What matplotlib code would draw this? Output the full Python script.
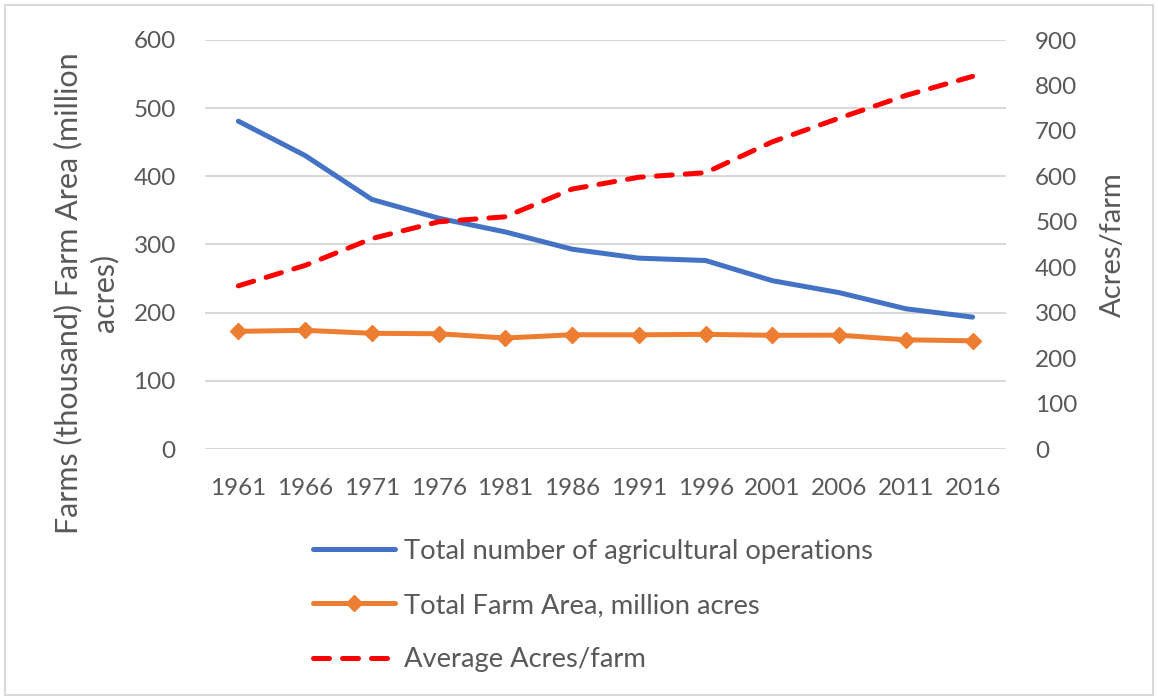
import matplotlib
matplotlib.use("Agg")
import matplotlib.pyplot as plt
from matplotlib.patches import Rectangle

plt.rcParams["font.family"] = ["Lato", "DejaVu Sans"]

years = ["1961", "1966", "1971", "1976", "1981", "1986",
         "1991", "1996", "2001", "2006", "2011", "2016"]
farms_thousand = [480.9, 430.5, 366.1, 338.6, 318.4, 293.1,
                  280.0, 276.5, 246.9, 229.4, 205.7, 193.5]
farm_area = [172.6, 174.1, 169.7, 169.1, 162.8, 167.6,
             167.5, 168.2, 166.8, 167.0, 160.2, 158.7]
acres_per_farm = [359, 404, 463, 500, 511, 572,
                  598, 608, 676, 728, 778, 820]

text_color = "#595959"
grid_color = "#d9d9d9"
fs = 17.5

fig = plt.figure(figsize=(11.58, 6.98), dpi=100)
fig.patches.append(Rectangle((5 / 1158, 3 / 698), 1148 / 1158, 690 / 698,
                             transform=fig.transFigure, fill=False,
                             edgecolor=grid_color, linewidth=1.5))

ax = fig.add_axes([205 / 1158, 1 - 449 / 698, 801 / 1158, 409 / 698])
ax2 = ax.twinx()

x = list(range(len(years)))
l1, = ax.plot(x, farms_thousand, color="#4472c4", lw=3.6,
              solid_capstyle="round", solid_joinstyle="round",
              label="Total number of agricultural operations")
l2, = ax.plot(x, farm_area, color="#ed7d31", lw=3.6, marker="D",
              markersize=8, solid_capstyle="round",
              label="Total Farm Area, million acres")
l3, = ax2.plot(x, acres_per_farm, color="#ff0000", lw=3.6,
               dashes=(3.2, 2.6), dash_capstyle="round",
               label="Average Acres/farm")

ax.set_xlim(-0.5, len(years) - 0.5)
ax.set_ylim(0, 600)
ax.set_yticks(range(0, 601, 100))
ax2.set_ylim(0, 900)
ax2.set_yticks(range(0, 901, 100))
ax.set_xticks(x)
ax.set_xticklabels(years)

ax.grid(axis="y", color=grid_color, lw=1.5)
ax.set_axisbelow(True)
for a in (ax, ax2):
    for s in a.spines.values():
        s.set_visible(False)
ax.tick_params(axis="both", length=0, labelsize=fs, labelcolor=text_color, pad=21)
ax2.tick_params(axis="y", length=0, labelsize=fs, labelcolor=text_color, pad=21)

ax.set_ylabel("Farms (thousand) Farm Area (million\nacres)", fontsize=22,
              color=text_color, linespacing=1.3)
ax.yaxis.set_label_coords(-0.108, 0.381)
ax2.set_ylabel("Acres/farm", fontsize=21, color=text_color, labelpad=16)

fig.legend(handles=[l1, l2, l3], loc="upper left",
           bbox_to_anchor=(288 / 1158, 1 - 514 / 698), frameon=False,
           fontsize=19.7, labelcolor=text_color, handlelength=3.0,
           handletextpad=0.35, labelspacing=1.07)

fig.savefig("out.png", dpi=100)
